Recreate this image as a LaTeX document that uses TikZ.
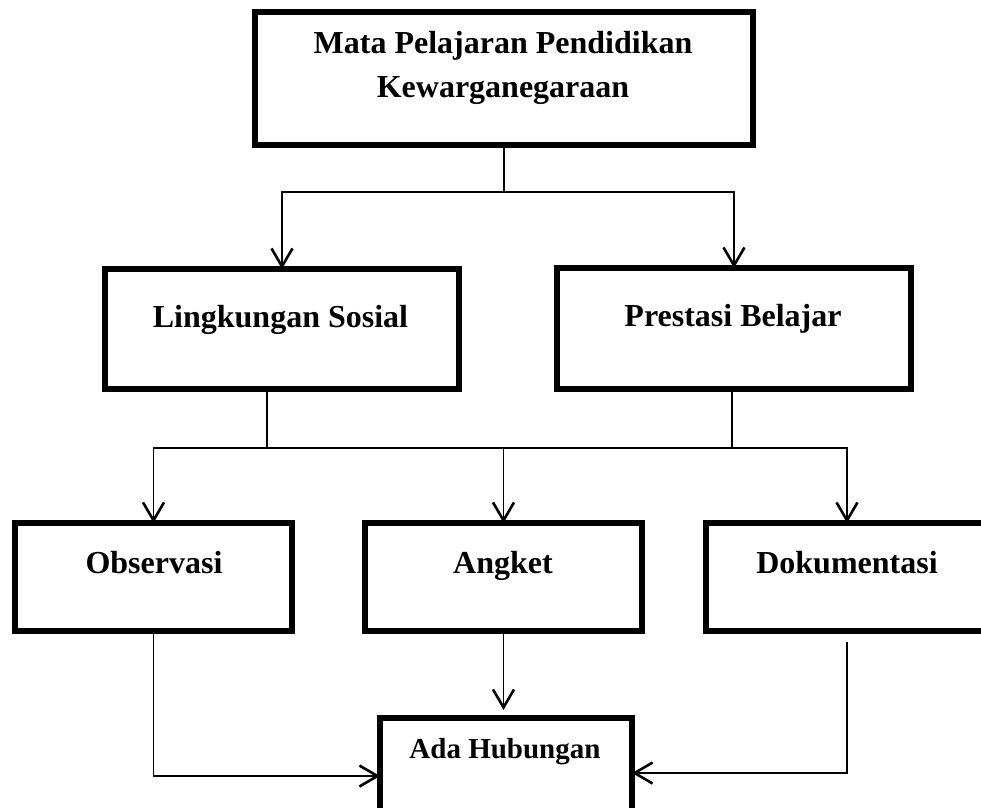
\documentclass[tikz,border=0pt]{standalone}
\usepackage{fontspec}
\setmainfont{Liberation Serif}
\usetikzlibrary{arrows.meta}
\begin{document}
\begin{tikzpicture}[x=1pt,y=-1pt,
  box/.style={draw, line width=5.2pt, inner sep=0pt, outer sep=0pt},
  lbl/.style={font=\bfseries\fontsize{32}{38}\selectfont, anchor=base, inner sep=0pt},
  lblsmall/.style={font=\bfseries\fontsize{29}{35}\selectfont, anchor=base, inner sep=0pt},
  conn/.style={line width=1.9pt},
  arr/.style={conn, -{Straight Barb[length=18pt,width=21pt,line width=2.6pt]}}]
\useasboundingbox (0,0) rectangle (981,807);
\clip (0,0) rectangle (981,807);
% boxes
\node[box, minimum width=498pt, minimum height=133pt] (top) at (504,78.5) {};
\node[box, minimum width=354pt, minimum height=120pt] (ls) at (282,329) {};
\node[box, minimum width=354pt, minimum height=121pt] (pb) at (734,328.5) {};
\node[box, minimum width=277pt, minimum height=108pt] (ob) at (153.5,577) {};
\node[box, minimum width=277pt, minimum height=108pt] (an) at (503.5,577) {};
\node[box, minimum width=282pt, minimum height=108pt] (dk) at (847,577) {};
\node[box, minimum width=252pt, minimum height=142pt] (ada) at (506,789) {};
% labels
\node[lbl] (t1) at (503,53) {Mata Pelajaran Pendidikan};
\node[lbl] (t2) at (503,97) {Kewarganegaraan};
\node[lbl] (tls) at (280.5,327) {Lingkungan Sosial};
\node[lbl] (tpb) at (733,326) {Prestasi Belajar};
\node[lbl] (tob) at (154,573) {Observasi};
\node[lbl] (tan) at (503,573) {Angket};
\node[lbl] (tdk) at (847,573) {Dokumentasi};
\node[lblsmall] (tada) at (505,758) {Ada Hubungan};
% connectors level 1
\coordinate (j1) at (504,192);
\draw[conn] (top.south) -- (j1);
\draw[arr] (j1) -| (ls.north);
\draw[arr] (j1) -| (pb.north);
% connectors level 2
\coordinate (j2l) at (267,448);
\coordinate (j2r) at (732,448);
\draw[conn] (ls.south -| j2l) -- (j2l);
\draw[conn] (pb.south -| j2r) -- (j2r);
\draw[conn] (j2l) -- (j2r);
\draw[arr] (j2l) -| (ob.north);
\draw[arr] (j2r) -| (dk.north);
\draw[arr] (j2l -| an.north) -- (an.north);
% connectors level 3
\coordinate (yL) at (0,776);
\coordinate (yR) at (0,773);
\draw[arr, shorten >=8pt] (an.south) -- (an.south |- ada.north);
\draw[arr] (ob.south) |- (ada.west |- yL);
\draw[arr, shorten <=11pt] (dk.south) |- (ada.east |- yR);
\end{tikzpicture}
\end{document}
